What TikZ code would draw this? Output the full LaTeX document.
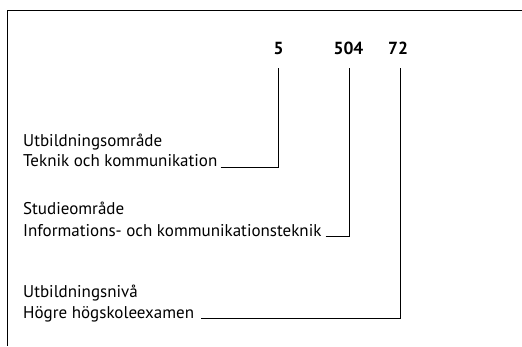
\documentclass[tikz,border=0pt]{standalone}
\usepackage{fontspec}
\setmainfont{PT Sans}
\begin{document}
\begin{tikzpicture}[x=1pt,y=-1pt,
  num/.style={font=\fontsize{17.5}{20}\selectfont\bfseries, inner sep=0pt, anchor=base},
  lbl/.style={font=\fontsize{17}{20}\selectfont, inner sep=0pt, anchor=base west},
  frame/.style={line width=1.4pt},
  conn/.style={line width=0.9pt}]
\useasboundingbox (0,0) rectangle (522,346);
\draw[frame] (522,10.5) -- (7.5,10.5) -- (7.5,346);
% numbers
\node[num] (n5) at (278.5,54) {5};
\node[num] (n504) at (348.5,54) {504};
\node[num] (n72) at (398,54) {72};
\coordinate (v5) at (278.5,68);
\coordinate (v504) at (349,68);
\coordinate (v72) at (400,68);
% labels
\node[lbl] (a1) at (23,146.5) {Utbildningsområde};
\node[lbl] (a2) at (23,166) {Teknik och kommunikation};
\node[lbl] (b1) at (23,214.5) {Studieområde};
\node[lbl] (b2) at (23,236) {Informations- och kommunikationsteknik};
\node[lbl] (c1) at (23,297) {Utbildningsnivå};
\node[lbl] (c2) at (23,318) {Högre högskoleexamen};
% connectors
\draw[conn] ([xshift=3pt,yshift=-1pt]a2.base east) -| (v5);
\draw[conn] ([xshift=4pt]b2.base east) -| (v504);
\draw[conn] ([xshift=7pt]c2.base east) -| (v72);
\end{tikzpicture}
\end{document}
